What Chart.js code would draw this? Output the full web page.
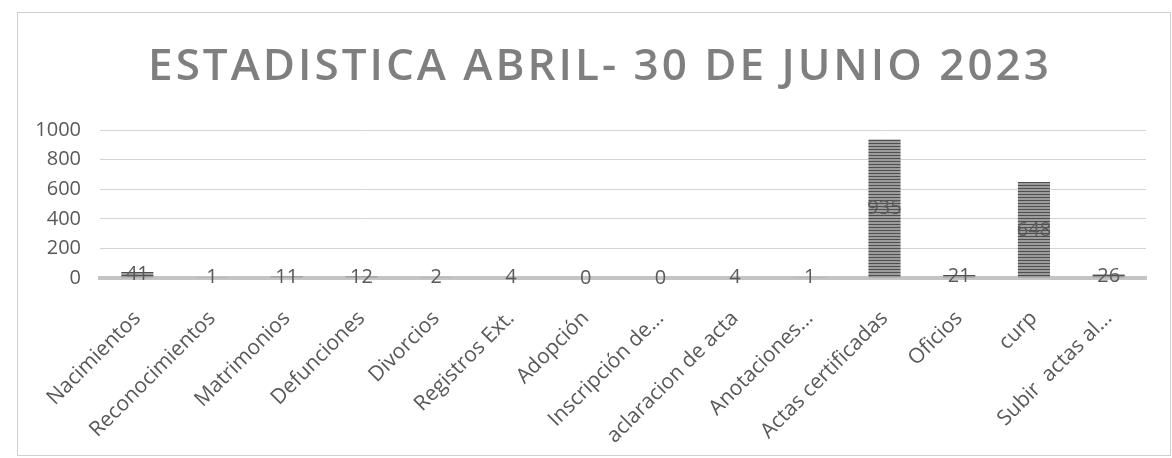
<!DOCTYPE html>
<html>
<head>
<meta charset="utf-8">
<script src="https://cdn.jsdelivr.net/npm/chart.js@4/dist/chart.umd.min.js"></script>
<style>
  html, body { margin: 0; padding: 0; background: #fff; }
  #frame {
    position: absolute; left: 17px; top: 12px;
    width: 1152px; height: 442px;
    border: 1px solid #cfcfcf;
  }
  #chart { display: block; }
</style>
</head>
<body>
<div id="frame"><canvas id="chart" width="1152" height="442"></canvas></div>
<script>
// Estadistica abril - 30 de junio 2023.

const TITLE = 'ESTADISTICA ABRIL- 30 DE JUNIO 2023';
const categories = [
  'Nacimientos', 'Reconocimientos', 'Matrimonios', 'Defunciones', 'Divorcios',
  'Registros Ext.', 'Adopción', 'Inscripción de...', 'aclaracion de acta',
  'Anotaciones...', 'Actas certificadas', 'Oficios', 'curp', 'Subir  actas al...'
];
const totals = [41, 1, 11, 12, 2, 4, 0, 0, 4, 1, 935, 21, 648, 26];
const yTicks = [0, 200, 400, 600, 800, 1000];

const TEXT = '#595959';
const FONT = "'Open Sans', sans-serif";

// striped fill like the printed bars
function stripePattern() {
  const c = document.createElement('canvas');
  c.width = 4; c.height = 3;
  const g = c.getContext('2d');
  g.fillStyle = '#9c9c9c'; g.fillRect(0, 0, 4, 3);
  g.fillStyle = '#4f4f4f'; g.fillRect(0, 1, 4, 1);
  return g.createPattern(c, 'repeat');
}

// value labels in the middle of each bar
const centerLabels = {
  id: 'centerLabels',
  afterDatasetsDraw(chart) {
    const ctx = chart.ctx;
    const meta = chart.getDatasetMeta(0);
    ctx.save();
    ctx.font = `20px ${FONT}`;
    ctx.fillStyle = TEXT;
    ctx.textAlign = 'center';
    ctx.textBaseline = 'middle';
    meta.data.forEach((bar, i) => {
      const y = (bar.y + bar.base) / 2;
      ctx.fillText(String(totals[i]), bar.x, y);
    });
    ctx.restore();
  }
};

// letter spaced title
const spacedTitle = {
  id: 'spacedTitle',
  afterDraw(chart) {
    const ctx = chart.ctx;
    ctx.save();
    ctx.font = `600 44px ${FONT}`;
    ctx.letterSpacing = '3px';
    ctx.fillStyle = '#7f7f7f';
    ctx.textAlign = 'center';
    ctx.textBaseline = 'middle';
    ctx.fillText(TITLE, chart.width / 2 + 6, 54);
    ctx.restore();
  }
};

new Chart(document.getElementById('chart'), {
  type: 'bar',
  data: {
    labels: categories,
    datasets: [{
      data: totals,
      backgroundColor: stripePattern(),
      borderWidth: 0,
      categoryPercentage: 1,
      barPercentage: 0.43,
    }],
  },
  options: {
    responsive: false,
    animation: false,
    layout: { padding: { top: 117, right: 24, left: 0, bottom: 0 } },
    plugins: {
      legend: { display: false },
      tooltip: { enabled: false },
      title: { display: false, text: TITLE },
    },
    scales: {
      x: {
        grid: { display: false, drawTicks: false },
        border: { color: '#c4c4c4', width: 4 },
        ticks: {
          color: TEXT,
          font: { family: FONT, size: 21 },
          maxRotation: 45, minRotation: 45,
          autoSkip: false,
          padding: 28,
        },
        afterFit(scale) { scale.height = 177; },
      },
      y: {
        min: 0, max: 1000,
        afterBuildTicks(scale) { scale.ticks = yTicks.map(v => ({ value: v })); },
        grid: { color: '#d4d4d4', drawTicks: false },
        border: { display: false },
        ticks: {
          color: TEXT,
          font: { family: FONT, size: 20 },
          padding: 19,
          callback: v => String(v),
        },
        afterFit(scale) { scale.width = 82; },
      },
    },
  },
  plugins: [centerLabels, spacedTitle],
});
</script>
</body>
</html>
